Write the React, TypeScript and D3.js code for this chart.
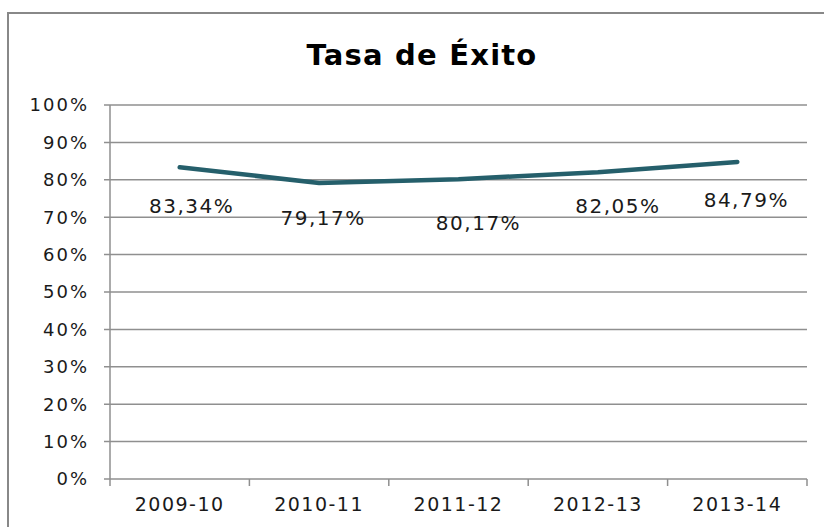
import * as d3 from 'd3';
import React, { useEffect, useRef } from 'react';

// Chart data
const categories = ['2009-10', '2010-11', '2011-12', '2012-13', '2013-14'];
const successRate = [0.8334, 0.7917, 0.8017, 0.8205, 0.8479];
const valueLabels = ['83,34%', '79,17%', '80,17%', '82,05%', '84,79%'];
const yTicks = [0, 0.1, 0.2, 0.3, 0.4, 0.5, 0.6, 0.7, 0.8, 0.9, 1];
const title = 'Tasa de Éxito';

// label nudges (dx, dy from the point) as placed in the original
const labelNudge = [[12, 46], [4, 42], [20, 51], [20, 41], [9, 45]];

function App() {
    const svgRef = useRef<SVGSVGElement>(null);

    useEffect(() => {
        const width = 824;
        const height = 527;
        const plot = { left: 110, right: 807, top: 105, bottom: 479 };
        const gridColor = '#8f8f8f';
        const font = '"DejaVu Sans", Verdana, sans-serif';

        const svg = d3.select(svgRef.current);
        svg.selectAll('*').remove();

        svg.attr('width', width).attr('height', height);

        // outer frame (runs off the right / bottom edges)
        svg.append('rect')
            .attr('x', 8)
            .attr('y', 13)
            .attr('width', 828)
            .attr('height', 540)
            .attr('fill', 'white')
            .attr('stroke', '#888')
            .attr('stroke-width', 2);

        // title
        svg.append('text')
            .attr('x', 422)
            .attr('y', 65)
            .attr('text-anchor', 'middle')
            .style('font-family', font)
            .style('font-weight', 'bold')
            .style('font-size', '29px')
            .style('letter-spacing', '1.2px')
            .attr('fill', '#000')
            .text(title);

        const x = d3.scaleBand()
            .domain(categories)
            .range([plot.left, plot.right]);

        const y = d3.scaleLinear()
            .domain([0, 1])
            .range([plot.bottom, plot.top]);

        // horizontal gridlines
        svg.append('g')
            .selectAll('line')
            .data(yTicks)
            .join('line')
            .attr('x1', plot.left - 6)
            .attr('x2', plot.right)
            .attr('y1', (d) => y(d))
            .attr('y2', (d) => y(d))
            .attr('stroke', gridColor)
            .attr('stroke-width', 1.5);

        // y axis line
        svg.append('line')
            .attr('x1', plot.left)
            .attr('x2', plot.left)
            .attr('y1', y(1))
            .attr('y2', y(0))
            .attr('stroke', gridColor)
            .attr('stroke-width', 1.5);

        // y labels
        svg.append('g')
            .selectAll('text')
            .data(yTicks)
            .join('text')
            .attr('x', plot.left - 21)
            .attr('y', (d) => y(d))
            .attr('dy', '0.36em')
            .attr('text-anchor', 'end')
            .style('font-family', font)
            .style('font-size', '18px')
            .style('letter-spacing', '2px')
            .attr('fill', '#1a1a1a')
            .text((d) => d3.format('.0%')(d));

        // x tick marks at category boundaries
        const bounds = categories.map((c) => x(c)).concat([plot.right]);
        svg.append('g')
            .selectAll('line')
            .data(bounds)
            .join('line')
            .attr('x1', (d) => d)
            .attr('x2', (d) => d)
            .attr('y1', y(0))
            .attr('y2', y(0) + 7)
            .attr('stroke', gridColor)
            .attr('stroke-width', 1.5);

        // x labels
        svg.append('g')
            .selectAll('text')
            .data(categories)
            .join('text')
            .attr('x', (d) => x(d) + x.bandwidth() / 2)
            .attr('y', 511)
            .attr('text-anchor', 'middle')
            .style('font-family', font)
            .style('font-size', '19px')
            .style('letter-spacing', '1.5px')
            .attr('fill', '#1a1a1a')
            .text((d) => d);

        // the line
        const line = d3.line<number>()
            .x((d, i) => x(categories[i]) + x.bandwidth() / 2)
            .y((d) => y(d));

        svg.append('path')
            .datum(successRate)
            .attr('fill', 'none')
            .attr('stroke', '#255f6b')
            .attr('stroke-width', 4.5)
            .attr('stroke-linecap', 'round')
            .attr('stroke-linejoin', 'round')
            .attr('d', line);

        // data labels
        svg.append('g')
            .selectAll('text')
            .data(successRate)
            .join('text')
            .attr('x', (d, i) => x(categories[i]) + x.bandwidth() / 2 + labelNudge[i][0])
            .attr('y', (d, i) => y(d) + labelNudge[i][1])
            .attr('text-anchor', 'middle')
            .style('font-family', font)
            .style('font-size', '20px')
            .style('letter-spacing', '1.5px')
            .attr('fill', '#1a1a1a')
            .text((d, i) => valueLabels[i]);
    }, []);

    return (
        <svg ref={svgRef} style={{ position: 'absolute', left: 0, top: 0, display: 'block' }} />
    );
}

export default App;
